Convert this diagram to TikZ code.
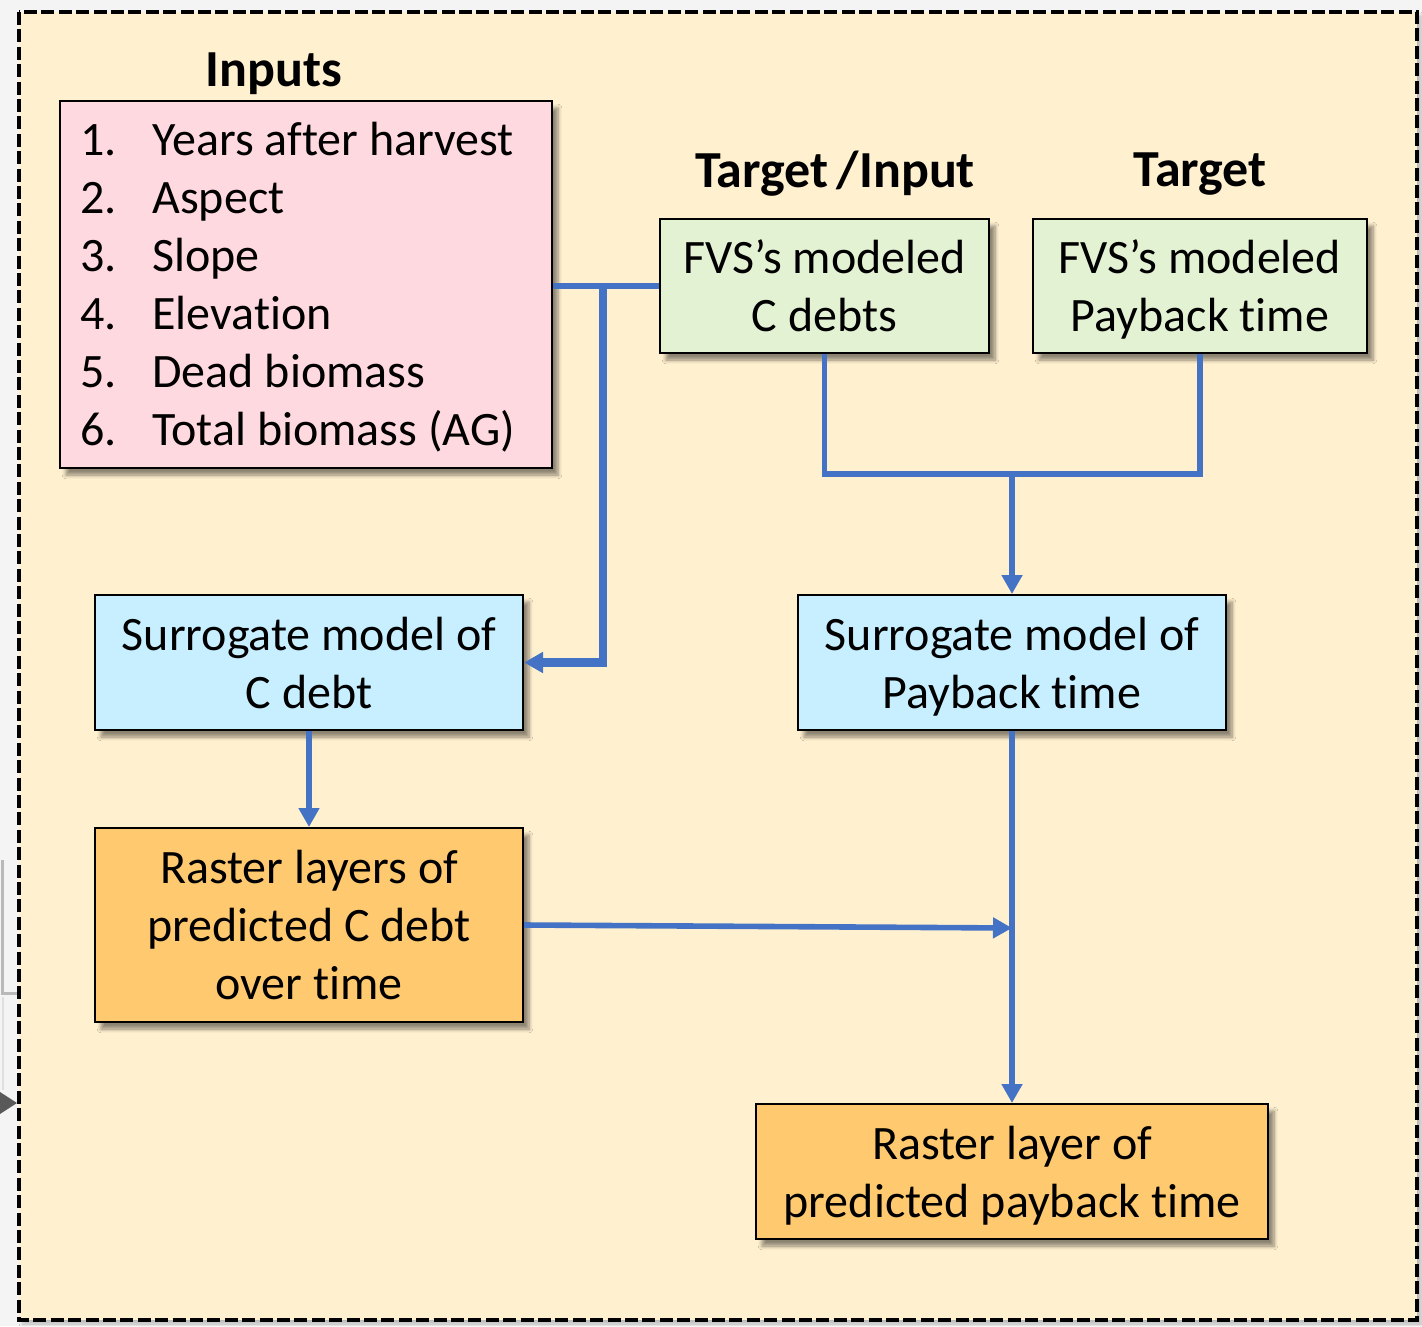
\documentclass[tikz,border=0pt]{standalone}
\usepackage{fontspec}
\setmainfont[Ligatures=NoCommon]{Carlito}
\usetikzlibrary{arrows.meta,shadows.blur}

\definecolor{pagegrey}{HTML}{F4F4F4}
\definecolor{panelfill}{HTML}{FFF1CF}
\definecolor{inputpink}{HTML}{FFD9E0}
\definecolor{targetgreen}{HTML}{E4F2D4}
\definecolor{modelblue}{HTML}{C7EFFF}
\definecolor{rasterorange}{HTML}{FFC96F}
\definecolor{linkblue}{HTML}{4472C4}

\begin{document}
\begin{tikzpicture}[x=0.5pt,y=-0.5pt,
  boxtext/.style={font=\fontsize{24}{29}\selectfont},
  headtext/.style={font=\fontsize{26}{31}\selectfont\bfseries},
  flowbox/.style={draw=black, line width=1pt, align=center, inner sep=0pt,
    boxtext, text depth=0pt,
    blur shadow={shadow xshift=3pt, shadow yshift=-3.5pt, shadow blur steps=6,
      shadow opacity=45}},
  link/.style={draw=linkblue, line width=2.8pt},
  linkarrow/.style={link, -{Triangle[length=9.5pt,width=10pt]}, shorten >=0pt}
]
% page and panel
\path[fill=pagegrey] (0,0) rectangle (1422,1326);
\useasboundingbox (0,0) rectangle (1422,1326);

% pieces of a neighbouring figure at the left edge
\draw[gray!55, line width=1.5pt] (2,860) -- (2,993) -- (18,993);
\draw[gray!25, line width=1pt] (3,997) -- (3,1090);
\fill[black!65] (0,1092) -- (17,1103) -- (0,1114) -- cycle;

\path[fill=panelfill, blur shadow={shadow xshift=2pt, shadow yshift=-2pt,
  shadow blur steps=5, shadow opacity=25}] (19,12) rectangle (1417,1320);
\draw[line width=2.4pt, dash pattern=on 6.5pt off 2.2pt] (19,12) rectangle (1417,1320);

% headings
\node[headtext] (hin) at (274,74) {Inputs};
\node[headtext] (hti) at (835,174) {Target\,/Input};
\node[headtext] (htg) at (1200,174) {Target};

% input box
\node[flowbox, fill=inputpink, minimum width=246pt, minimum height=183.5pt]
  (inputs) at (306,284.5) {};
\node[boxtext, anchor=west, align=left, inner sep=0pt] (inlist) at (80,287)
  {\makebox[36pt][l]{1.}Years after harvest\\
   \makebox[36pt][l]{2.}Aspect\\
   \makebox[36pt][l]{3.}Slope\\
   \makebox[36pt][l]{4.}Elevation\\
   \makebox[36pt][l]{5.}Dead biomass\\
   \makebox[36pt][l]{6.}Total biomass (AG)};

% targets
\node[flowbox, fill=targetgreen, minimum width=164.5pt, minimum height=67pt]
  (cdebt) at (824.5,286) {FVS’s modeled\\C debts};
\node[flowbox, fill=targetgreen, minimum width=167pt, minimum height=67pt]
  (payback) at (1200,286) {FVS’s modeled\\Payback time};

% surrogate models
\node[flowbox, fill=modelblue, minimum width=214pt, minimum height=67.5pt]
  (smc) at (309,662.5) {Surrogate model of\\C debt};
\node[flowbox, fill=modelblue, minimum width=214pt, minimum height=67.5pt]
  (smp) at (1012,662.5) {Surrogate model of\\Payback time};

% raster outputs
\node[flowbox, fill=rasterorange, minimum width=214pt, minimum height=97pt]
  (rc) at (309,925) {Raster layers of\\predicted C debt\\over time};
\node[flowbox, fill=rasterorange, minimum width=256pt, minimum height=67.5pt]
  (rp) at (1012,1171.5) {Raster layer of\\predicted payback time};

% junction points
\coordinate (jin) at (603,286);
\coordinate (jtg) at (1012,474);
\coordinate (jrc) at (1012,928);

% connectors
\draw[link] (inputs.east |- cdebt.west) -- (cdebt.west);
\draw[linkarrow, line width=4.2pt] (jin) |- (smc.east);
\draw[link] (cdebt.south) -- (cdebt.south |- jtg) -- (payback.south |- jtg) -- (payback.south);
\draw[linkarrow] (jtg) -- (smp.north);
\draw[linkarrow] (smc.south) -- (rc.north);
\draw[linkarrow] (smp.south) -- (rp.north);
\draw[linkarrow] (rc.east) -- (jrc);
\end{tikzpicture}
\end{document}
